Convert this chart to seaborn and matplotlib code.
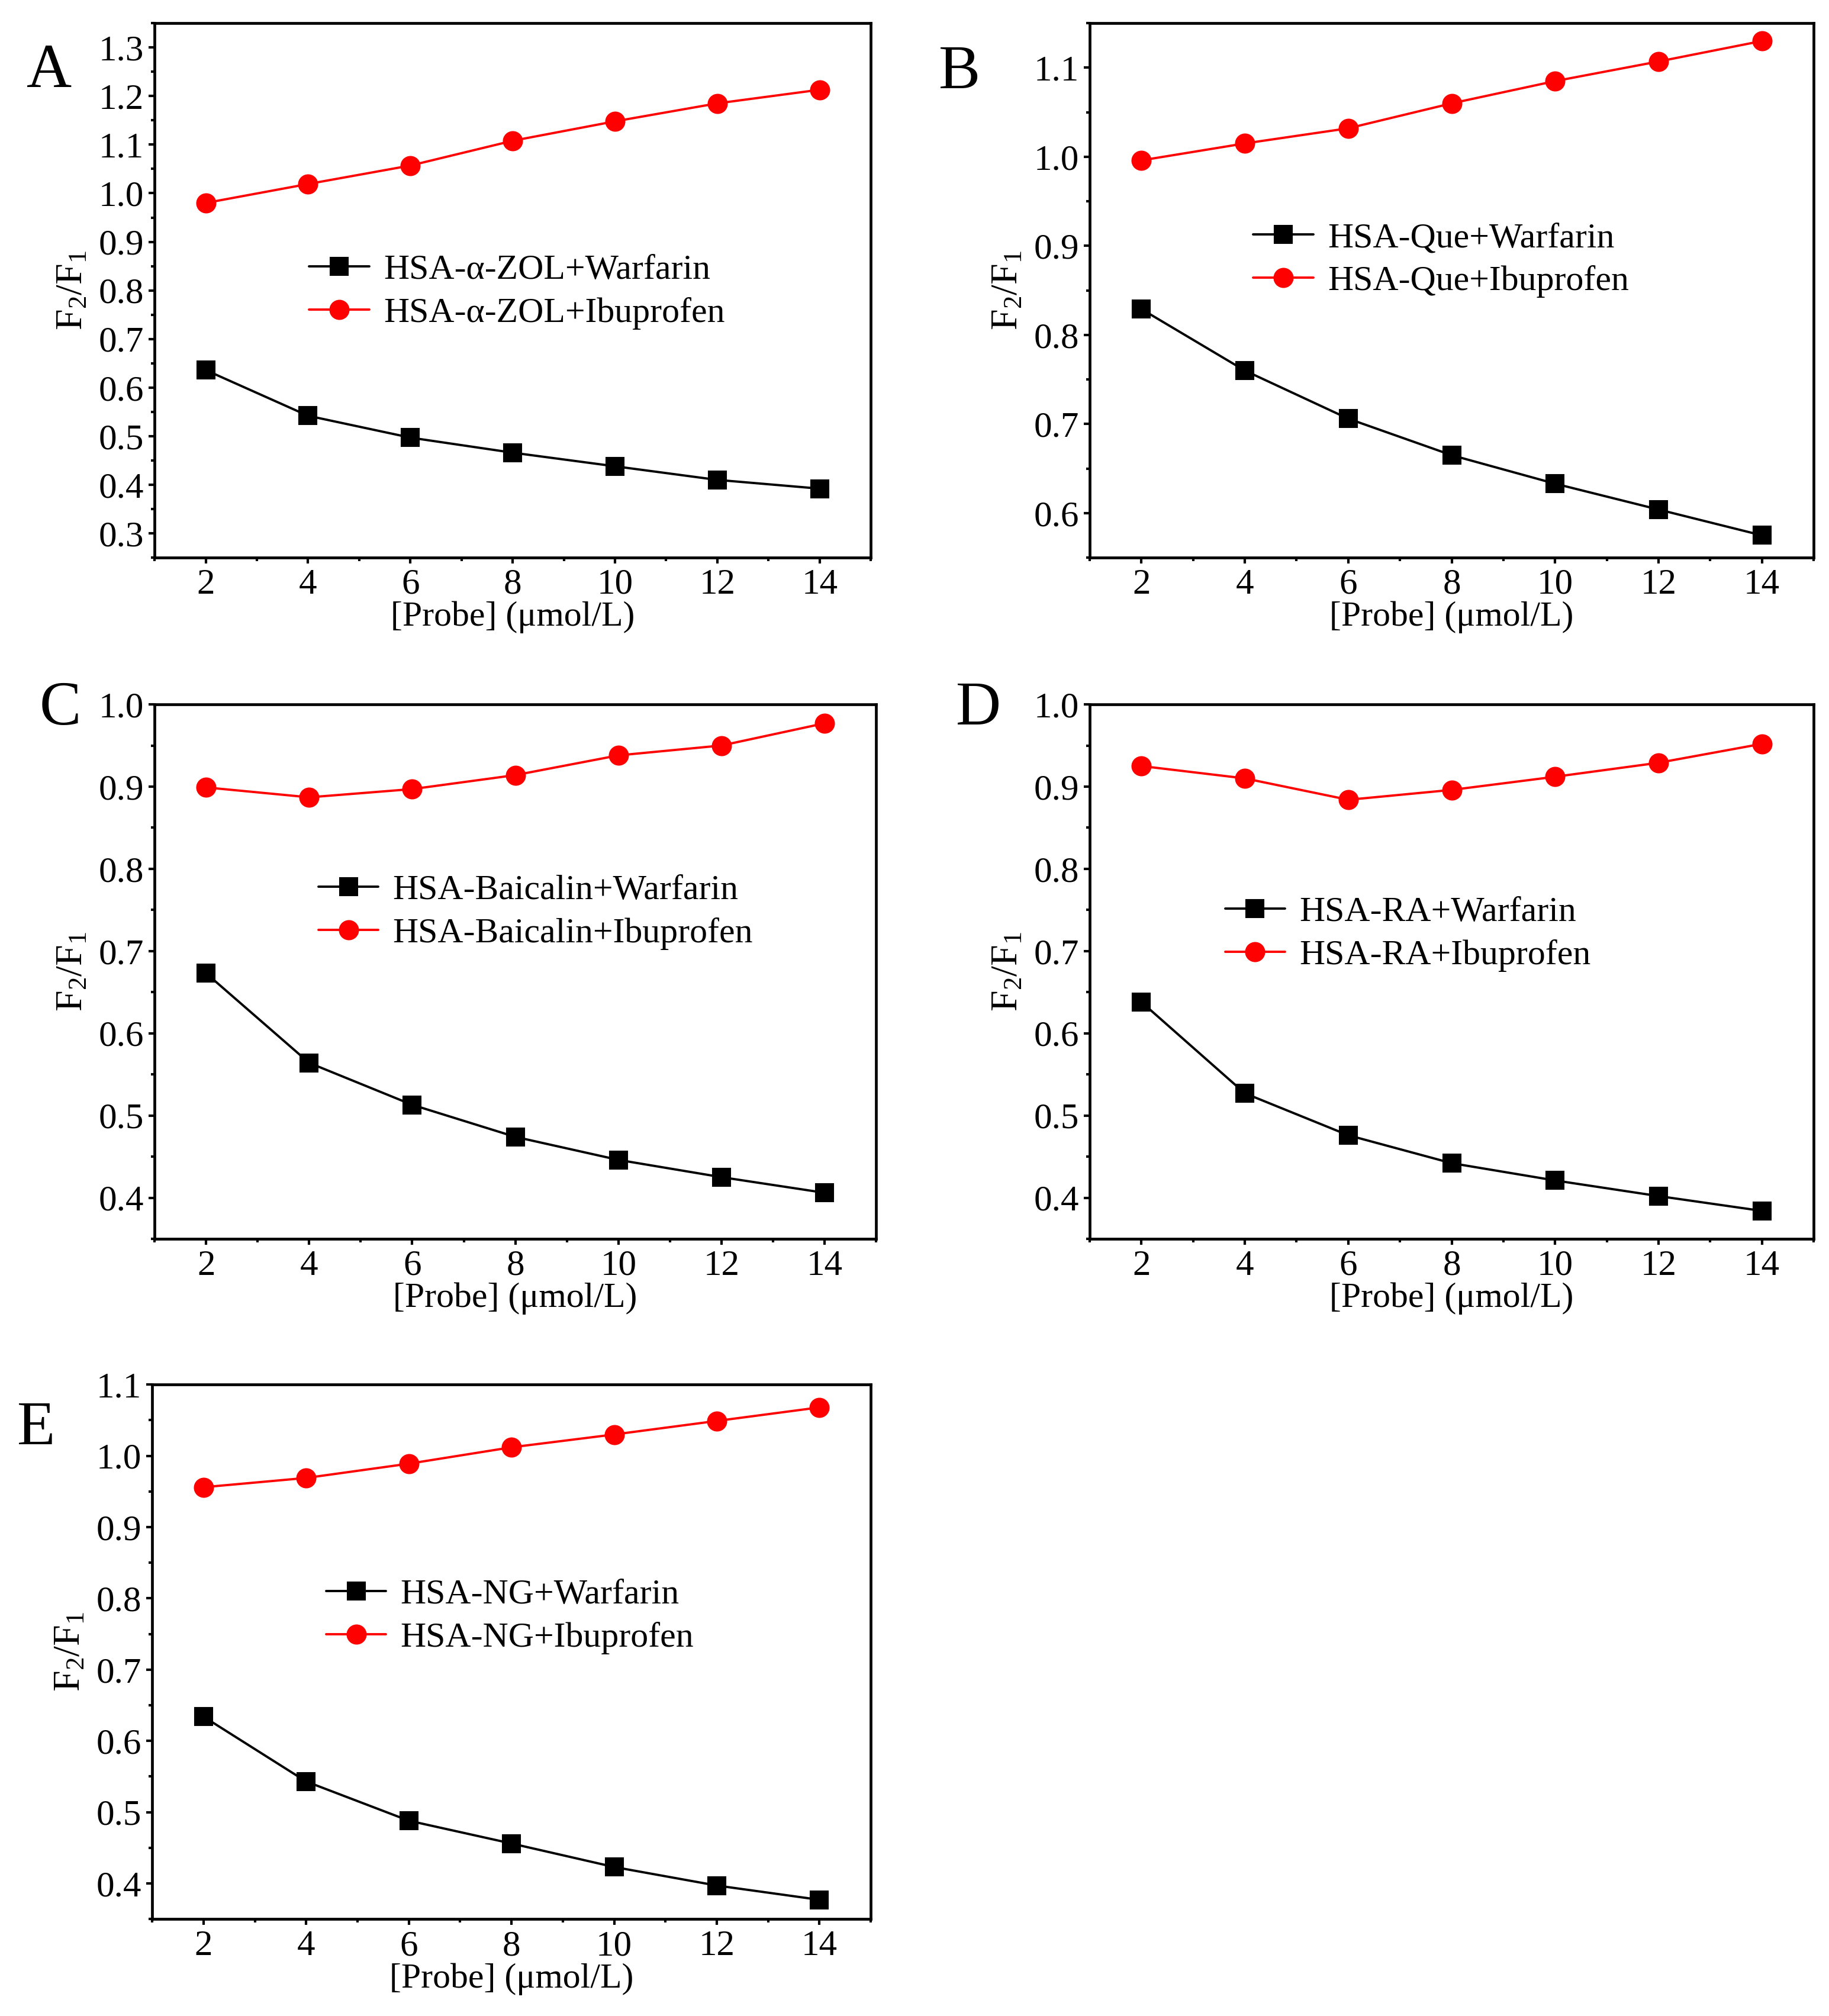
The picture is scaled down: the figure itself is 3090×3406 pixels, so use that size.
import numpy as np
import pandas as pd
import matplotlib
matplotlib.use('Agg')
import matplotlib.pyplot as plt
from matplotlib.ticker import MultipleLocator, FormatStrFormatter
import seaborn as sns

# ---------- data ----------
conc = [2, 4, 6, 8, 10, 12, 14]

a_warfarin = [0.636, 0.542, 0.497, 0.466, 0.438, 0.410, 0.392]
a_ibuprofen = [0.980, 1.019, 1.057, 1.108, 1.148, 1.185, 1.213]

b_warfarin = [0.829, 0.760, 0.706, 0.665, 0.633, 0.604, 0.575]
b_ibuprofen = [0.996, 1.015, 1.032, 1.060, 1.085, 1.107, 1.130]

c_warfarin = [0.673, 0.564, 0.513, 0.474, 0.446, 0.425, 0.406]
c_ibuprofen = [0.899, 0.887, 0.897, 0.914, 0.938, 0.950, 0.977]

d_warfarin = [0.638, 0.527, 0.476, 0.442, 0.421, 0.402, 0.384]
d_ibuprofen = [0.925, 0.910, 0.884, 0.896, 0.912, 0.929, 0.952]

e_warfarin = [0.634, 0.543, 0.488, 0.456, 0.423, 0.397, 0.377]
e_ibuprofen = [0.956, 0.969, 0.989, 1.012, 1.030, 1.049, 1.068]

panel_letters = ['A', 'B', 'C', 'D', 'E']
complexes = ['HSA-α-ZOL', 'HSA-Que', 'HSA-Baicalin', 'HSA-RA', 'HSA-NG']

# ---------- style ----------
sns.set_style('ticks')
plt.rcParams['font.family'] = ['Liberation Serif', 'DejaVu Serif']
plt.rcParams['mathtext.fontset'] = 'custom'
plt.rcParams['mathtext.rm'] = 'Liberation Serif'
plt.rcParams['mathtext.default'] = 'regular'
for k in ['text.color', 'axes.labelcolor', 'xtick.color', 'ytick.color',
          'axes.edgecolor']:
    plt.rcParams[k] = 'black'

fig = plt.figure(figsize=(15.45, 17.03), dpi=200)

# axes rectangles (figure fraction)
rects = [
    [0.0845, 0.7234, 0.3916, 0.2651],
    [0.5958, 0.7234, 0.3958, 0.2651],
    [0.0845, 0.3855, 0.3945, 0.2651],
    [0.5958, 0.3855, 0.3958, 0.2651],
    [0.0832, 0.0481, 0.3929, 0.2651],
]
ylims = [(0.25, 1.35), (0.55, 1.15), (0.35, 1.0), (0.35, 1.0), (0.35, 1.1)]
yticks = [np.arange(0.3, 1.31, 0.1), np.arange(0.6, 1.11, 0.1),
          np.arange(0.4, 1.01, 0.1), np.arange(0.4, 1.01, 0.1),
          np.arange(0.4, 1.11, 0.1)]
legend_pos = [(0.216, 0.497), (0.226, 0.557), (0.227, 0.611),
              (0.187, 0.570), (0.242, 0.566)]
letter_pos = [(0.0269, 0.9642), (0.5246, 0.9636), (0.033, 0.648),
              (0.535, 0.648), (0.0197, 0.291)]

warfarin = [a_warfarin, b_warfarin, c_warfarin, d_warfarin, e_warfarin]
ibuprofen = [a_ibuprofen, b_ibuprofen, c_ibuprofen, d_ibuprofen, e_ibuprofen]

for i in range(5):
    ax = fig.add_axes(rects[i])
    sns.lineplot(x=conc, y=warfarin[i], ax=ax, color='black', marker='s',
                 markersize=10.5, markeredgecolor='black', linewidth=1.4,
                 label=complexes[i] + '+Warfarin')
    sns.lineplot(x=conc, y=ibuprofen[i], ax=ax, color='red', marker='o',
                 markersize=11.5, markeredgecolor='red', linewidth=1.4,
                 label=complexes[i] + '+Ibuprofen')

    ax.set_xlim(1, 15)
    ax.set_ylim(*ylims[i])
    ax.set_xticks(conc)
    ax.set_yticks(yticks[i])
    ax.xaxis.set_minor_locator(MultipleLocator(1))
    ax.yaxis.set_minor_locator(MultipleLocator(0.05))
    ax.yaxis.set_major_formatter(FormatStrFormatter('%.1f'))
    ax.tick_params(which='major', direction='out', length=3.6, width=1.5,
                   labelsize=22, pad=3)
    ax.tick_params(which='minor', direction='out', length=2, width=1.5)
    for sp in ax.spines.values():
        sp.set_linewidth(1.7)

    ax.set_xlabel('[Probe] (μmol/L)', fontsize=21.5, labelpad=0)
    ax.set_ylabel('F$_2$/F$_1$', fontsize=23, labelpad=5)

    ax.legend(loc='center left', bbox_to_anchor=legend_pos[i],
              frameon=False, fontsize=21.5, borderpad=0, borderaxespad=0,
              handlelength=1.7, handletextpad=0.4, labelspacing=0.3)

    fig.text(letter_pos[i][0], letter_pos[i][1], panel_letters[i],
             fontsize=38, ha='center', va='center')

fig.savefig('out.png', dpi=200)
